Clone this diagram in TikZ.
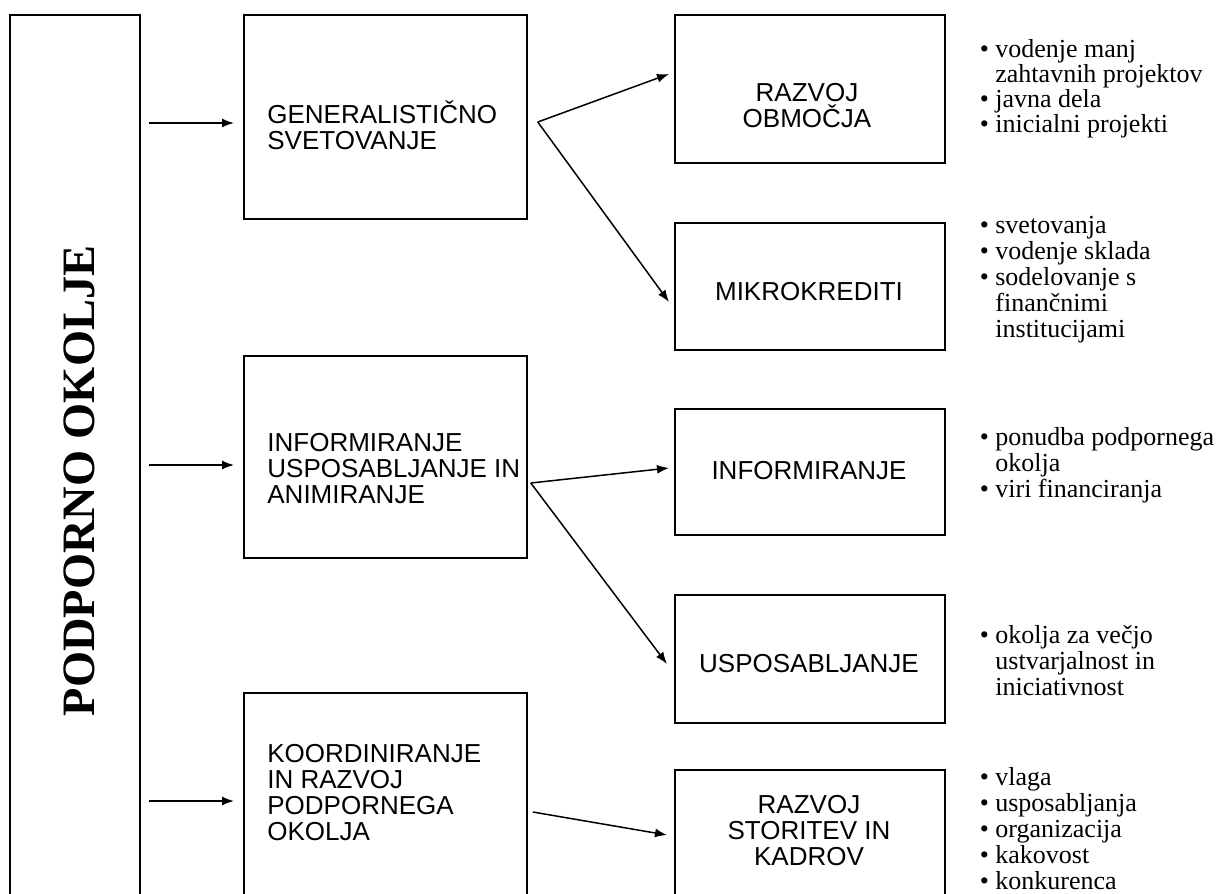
\documentclass[tikz,border=0pt]{standalone}
\usepackage{fontspec}
\setmainfont{Liberation Serif}
\newfontfamily\sansf{Liberation Sans}
\usetikzlibrary{arrows.meta,calc}
\tikzset{
  box/.style={draw, line width=0.9pt, inner sep=0pt, anchor=north west},
  arr/.style={-{Latex[length=6pt,width=4.5pt]}, line width=0.75pt},
  boxtxt/.style={inner sep=0pt, font=\sansf\fontsize{13pt}{13pt}\selectfont},
  bultxt/.style={inner sep=0pt, anchor=base west, font=\fontsize{13pt}{13pt}\selectfont},
  bultxtb/.style={inner sep=0pt, anchor=base west, font=\fontsize{13pt}{12pt}\selectfont},
  titletxt/.style={inner sep=0pt, anchor=base, rotate=90, font=\bfseries\fontsize{23.2pt}{26pt}\selectfont}
}
\newcommand{\bul}{\llap{\textbullet\ }}
\begin{document}
\begin{tikzpicture}[x=0.5pt,y=-0.5pt]
\useasboundingbox (0,0) rectangle (1216,894);
\begin{scope}
\clip (0,0) rectangle (1216,894);
% boxes
\node[box, minimum width=65pt, minimum height=450pt] (pod) at (9,14) {};
\node[box, minimum width=141.5pt, minimum height=102pt] (gen) at (243,14) {};
\node[box, minimum width=141.5pt, minimum height=101pt] (inf) at (243,355) {};
\node[box, minimum width=141.5pt, minimum height=111pt] (koor) at (243,692) {};
\node[box, minimum width=135pt, minimum height=74pt] (razobm) at (674,14) {};
\node[box, minimum width=135pt, minimum height=63.5pt] (mikro) at (674,222) {};
\node[box, minimum width=135pt, minimum height=63pt] (infr) at (674,408) {};
\node[box, minimum width=135pt, minimum height=64pt] (uspos) at (674,594) {};
\node[box, minimum width=135pt, minimum height=72.5pt] (stor) at (674,769) {};

% title
\node[titletxt] (podtxt) at (94,481) {PODPORNO OKOLJE};

% box texts
\node[boxtxt, anchor=base west] (gentxt) at (267,123)
  {\begin{tabular}[t]{@{}l@{}}\smash{GENERALISTIČNO}\\SVETOVANJE\end{tabular}};
\node[boxtxt, anchor=base west] (inftxt) at (267,451)
  {\begin{tabular}[t]{@{}l@{}}INFORMIRANJE\\USPOSABLJANJE IN\\ANIMIRANJE\end{tabular}};
\node[boxtxt, anchor=base west] (koortxt) at (267,762)
  {\begin{tabular}[t]{@{}l@{}}KOORDINIRANJE\\IN RAZVOJ\\PODPORNEGA\\OKOLJA\end{tabular}};
\node[boxtxt, anchor=base] (razobmtxt) at (807,101)
  {\begin{tabular}[t]{@{}c@{}}RAZVOJ\\\smash{OBMOČJA}\end{tabular}};
\node[boxtxt, anchor=base] (mikrotxt) at (809,300) {MIKROKREDITI};
\node[boxtxt, anchor=base] (infrtxt) at (809,479) {INFORMIRANJE};
\node[boxtxt, anchor=base] (usposxt) at (809,672) {USPOSABLJANJE};
\node[boxtxt, anchor=base] (stortxt) at (809,813)
  {\begin{tabular}[t]{@{}c@{}}RAZVOJ\\STORITEV IN\\KADROV\end{tabular}};

% bullet lists
\node[bultxtb] (b1) at (995,57)
  {\begin{tabular}[t]{@{}l@{}}\bul vodenje manj\\zahtavnih projektov\\\bul javna dela\\\bul inicialni projekti\end{tabular}};
\node[bultxt] (b2) at (995,233)
  {\begin{tabular}[t]{@{}l@{}}\bul svetovanja\\\bul vodenje sklada\\\bul sodelovanje s\\finančnimi\\institucijami\end{tabular}};
\node[bultxt] (b3) at (995,445)
  {\begin{tabular}[t]{@{}l@{}}\bul ponudba podpornega\\okolja\\\bul viri financiranja\end{tabular}};
\node[bultxt] (b4) at (995,643)
  {\begin{tabular}[t]{@{}l@{}}\bul okolja za večjo\\ustvarjalnost in\\iniciativnost\end{tabular}};
\node[bultxt] (b5) at (995,785)
  {\begin{tabular}[t]{@{}l@{}}\bul vlaga\\\bul usposabljanja\\\bul organizacija\\\bul kakovost\\\bul konkurenca\end{tabular}};

% level coordinates
\coordinate (l1) at (0,123);
\coordinate (l2) at (0,465);
\coordinate (l3) at (0,801);
\coordinate (gy) at (0,122);
\coordinate (iy) at (0,483);
\coordinate (ky) at (0,812);
\coordinate (t1) at (0,74);
\coordinate (t2) at (0,302);
\coordinate (t3) at (0,468);
\coordinate (t4) at (0,664);
\coordinate (t5) at (0,835);

% arrows from the left box
\draw[arr] ($(pod.east |- l1)+(8,0)$) -- ($(gen.west |- l1)+(-9,0)$);
\draw[arr] ($(pod.east |- l2)+(8,0)$) -- ($(inf.west |- l2)+(-9,0)$);
\draw[arr] ($(pod.east |- l3)+(8,0)$) -- ($(koor.west |- l3)+(-9,0)$);

% forks
\coordinate (gf) at ($(gen.east |- gy)+(10,0)$);
\coordinate (iff) at ($(inf.east |- iy)+(3,0)$);
\coordinate (kf) at ($(koor.east |- ky)+(5,0)$);
\draw[arr] (gf) -- ($(razobm.west |- t1)+(-5,0)$);
\draw[arr] (gf) -- ($(mikro.west |- t2)+(-5,0)$);
\draw[arr] (iff) -- ($(infr.west |- t3)+(-5,0)$);
\draw[arr] (iff) -- ($(uspos.west |- t4)+(-7,0)$);
\draw[arr] (kf) -- ($(stor.west |- t5)+(-7,0)$);
\end{scope}
\end{tikzpicture}
\end{document}
